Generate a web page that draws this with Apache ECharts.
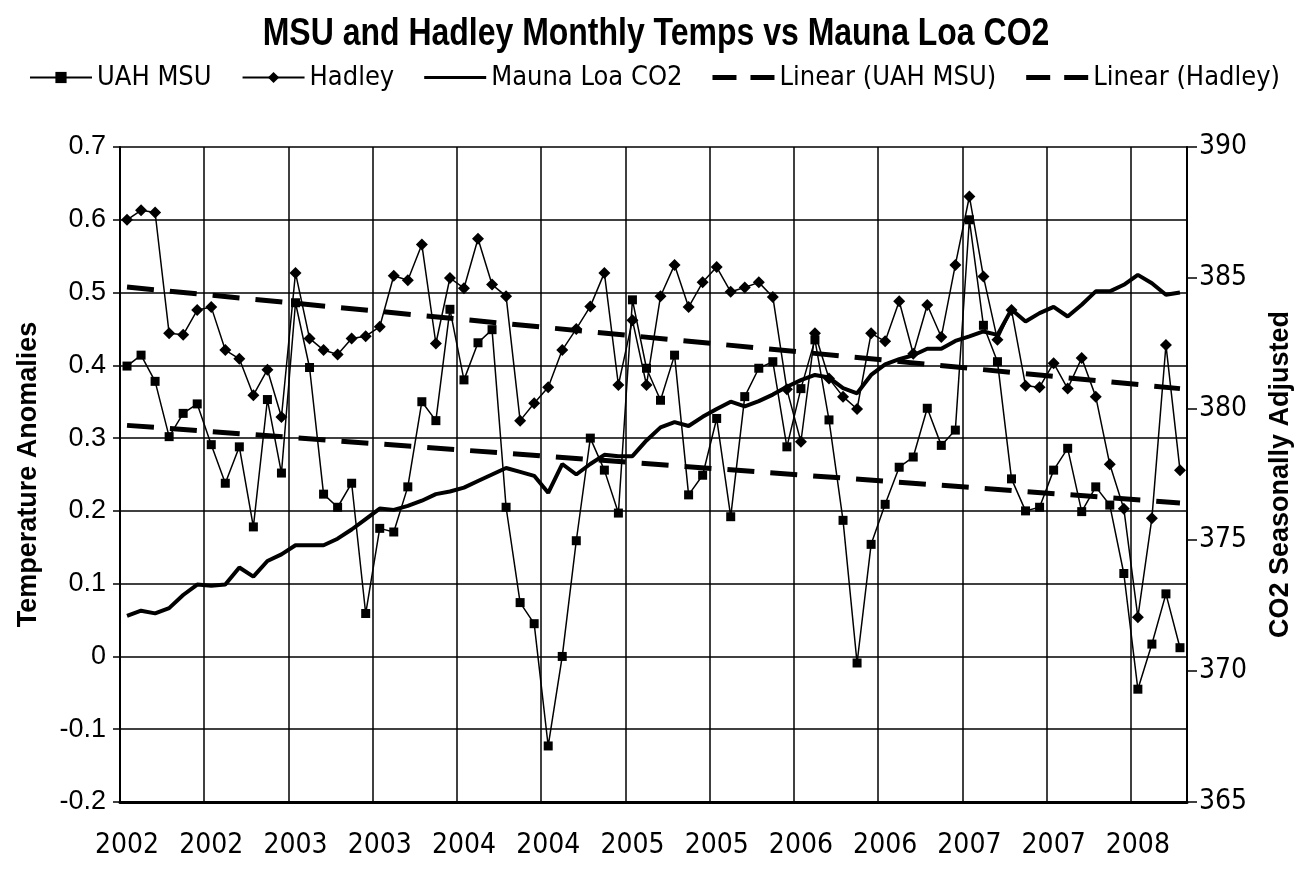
<!DOCTYPE html>
<html>
<head>
<meta charset="utf-8">
<title>MSU and Hadley Monthly Temps vs Mauna Loa CO2</title>
<script src="https://cdn.jsdelivr.net/npm/echarts@6/dist/echarts.min.js"></script>
<style>
    html, body {margin: 0; padding: 0; background: #fff;}
    #main {width: 1309px; height: 874px;}
</style>
</head>
<body>
<div id="main"></div>
<script>
// monthly temperature anomalies, Jan 2002 .. Apr 2008
var uahMsu = [
    0.399, 0.414, 0.378, 0.302, 0.334, 0.347, 0.291, 0.238, 0.288, 0.178, 0.353, 0.252,
    0.486, 0.397, 0.223, 0.205, 0.238, 0.059, 0.176, 0.171, 0.233, 0.350, 0.324, 0.477,
    0.380, 0.431, 0.449, 0.205, 0.074, 0.045, -0.123, 0.000, 0.159, 0.300, 0.256, 0.197,
    0.490, 0.396, 0.352, 0.414, 0.222, 0.249, 0.327, 0.192, 0.357, 0.396, 0.405, 0.288,
    0.368, 0.435, 0.325, 0.187, -0.009, 0.154, 0.209, 0.260, 0.274, 0.341, 0.290, 0.311,
    0.600, 0.455, 0.405, 0.244, 0.200, 0.205, 0.256, 0.286, 0.199, 0.233, 0.208, 0.114,
    -0.045, 0.017, 0.086, 0.012
];
var hadley = [
    0.600, 0.613, 0.610, 0.444, 0.442, 0.476, 0.480, 0.421, 0.409, 0.359, 0.394, 0.329,
    0.527, 0.437, 0.421, 0.415, 0.437, 0.440, 0.453, 0.523, 0.517, 0.566, 0.430, 0.520,
    0.506, 0.574, 0.511, 0.495, 0.324, 0.348, 0.370, 0.421, 0.450, 0.481, 0.527, 0.373,
    0.462, 0.373, 0.495, 0.538, 0.480, 0.514, 0.535, 0.501, 0.507, 0.514, 0.494, 0.367,
    0.295, 0.444, 0.382, 0.357, 0.340, 0.444, 0.433, 0.488, 0.416, 0.483, 0.439, 0.538,
    0.632, 0.522, 0.435, 0.476, 0.372, 0.370, 0.403, 0.368, 0.410, 0.357, 0.264, 0.203,
    0.054, 0.190, 0.428, 0.256
];
// Mauna Loa CO2, seasonally adjusted (ppm)
var maunaLoaCo2 = [
    372.10, 372.30, 372.20, 372.40, 372.90, 373.30, 373.25, 373.30, 373.95, 373.60, 374.20, 374.45,
    374.80, 374.80, 374.80, 375.05, 375.40, 375.80, 376.20, 376.15, 376.30, 376.50, 376.75, 376.85,
    377.00, 377.25, 377.50, 377.75, 377.60, 377.45, 376.80, 377.90, 377.50, 377.90, 378.25, 378.20,
    378.20, 378.80, 379.30, 379.50, 379.35, 379.70, 380.00, 380.28, 380.10, 380.30, 380.55, 380.85,
    381.10, 381.30, 381.20, 380.80, 380.60, 381.30, 381.70, 381.90, 382.05, 382.30, 382.30, 382.60,
    382.77, 382.96, 382.83, 383.80, 383.34, 383.66, 383.90, 383.53, 383.98, 384.49, 384.49, 384.74,
    385.12, 384.80, 384.36, 384.45
];
// excel linear trend lines, first and last month values
var linearUahEnds = [0.3175, 0.211];
var linearHadleyEnds = [0.5075, 0.368];

var tickLabels = ['2002', '2002', '2003', '2003', '2004', '2004', '2005', '2005', '2006', '2006', '2007', '2007', '2008'];
var leftTicks = {min: -0.2, max: 0.7, step: 0.1};
var rightTicks = {min: 365, max: 390, step: 5};

var months = [];
for (var i = 0; i < uahMsu.length; i++) {
    months.push((2002 + Math.floor(i / 12)) + '-' + ('0' + (i % 12 + 1)).slice(-2));
}

var NARROW = '"Liberation Sans Narrow", "DejaVu Sans Condensed", "Arial Narrow", sans-serif';
var ARIAL = '"Liberation Sans", Arial, sans-serif';
// legend icons: thin solid line, two long dashes
var ICON_LINE = 'path://M0,0h62v3h-62z';
var ICON_DASH = 'path://M0,0h24v5h-24zM38,0h24v5h-24z';

/**
 * trend line series data: only the two ends, the line joins them
 */
function trendData(ends) {
    var data = [];
    for (var i = 0; i < months.length; i++) {
        data.push(null);
    }
    data[0] = ends[0];
    data[months.length - 1] = ends[1];
    return data;
}

/**
 * MSU and Hadley monthly temps vs Mauna Loa CO2 chart
 */
function msu_hadley_co2_chart() {
    var myChart = echarts.init(document.getElementById('main'), null, {renderer: 'canvas'});
    var option = null;
    option = {
        backgroundColor: '#fff',
        animation: false,
        // title drawn as a condensed text, the excel title uses a narrow font
        graphic: [{
            type: 'text',
            x: 656,
            y: 15,
            scaleX: 0.82,
            style: {
                text: 'MSU and Hadley Monthly Temps vs Mauna Loa CO2',
                align: 'center',
                verticalAlign: 'top',
                fill: '#000',
                font: 'bold 39px "Liberation Sans", Arial, sans-serif'
            }
        }],
        legend: {
            top: 59,
            left: 'center',
            itemWidth: 62,
            itemHeight: 14,
            itemGap: 30,
            textStyle: {
                fontFamily: NARROW,
                fontSize: 27,
                color: '#000'
            },
            data: [
                {name: 'UAH MSU'},
                {name: 'Hadley'},
                {name: 'Mauna Loa CO2', icon: ICON_LINE},
                {name: 'Linear (UAH MSU)', icon: ICON_DASH},
                {name: 'Linear (Hadley)', icon: ICON_DASH}
            ]
        },
        grid: {
            left: 120,
            right: 122,
            top: 147,
            bottom: 72,
            outerBoundsMode: 'none'
        },
        xAxis: {
            type: 'category',
            data: months,
            boundaryGap: true,
            axisLine: {onZero: false, lineStyle: {color: '#000', width: 3}},
            axisTick: {
                interval: 5,
                length: 10,
                lineStyle: {color: '#000', width: 1.5}
            },
            splitLine: {
                show: true,
                interval: 5,
                lineStyle: {color: '#000', width: 1.5}
            },
            axisLabel: {
                interval: 5,
                formatter: function (value, index) {
                    return tickLabels[Math.floor(index / 6)];
                },
                margin: 30,
                fontFamily: NARROW,
                fontSize: 28,
                color: '#000'
            }
        },
        yAxis: [{
            type: 'value',
            name: 'Temperature Anomalies',
            nameLocation: 'middle',
            nameRotate: 90,
            nameGap: 78,
            nameTextStyle: {
                fontFamily: ARIAL,
                fontSize: 27,
                fontWeight: 'bold',
                color: '#000'
            },
            min: leftTicks.min,
            max: leftTicks.max,
            interval: leftTicks.step,
            axisLine: {show: true, lineStyle: {color: '#000', width: 2}},
            axisTick: {show: true, length: 7, lineStyle: {color: '#000', width: 1.5}},
            splitLine: {show: true, lineStyle: {color: '#000', width: 1.5}},
            axisLabel: {
                margin: 14,
                fontFamily: ARIAL,
                fontSize: 27,
                color: '#000',
                formatter: function (v) {
                    return String(Math.round(v * 10) / 10);
                }
            }
        }, {
            type: 'value',
            name: 'CO2 Seasonally Adjusted',
            nameLocation: 'middle',
            nameRotate: 90,
            nameGap: 80,
            nameTextStyle: {
                fontFamily: ARIAL,
                fontSize: 27,
                fontWeight: 'bold',
                color: '#000'
            },
            min: rightTicks.min,
            max: rightTicks.max,
            interval: rightTicks.step,
            axisLine: {show: true, lineStyle: {color: '#000', width: 2}},
            axisTick: {show: true, length: 10, lineStyle: {color: '#000', width: 1.5}},
            splitLine: {show: false},
            axisLabel: {
                margin: 12,
                fontFamily: NARROW,
                fontSize: 28,
                color: '#000'
            }
        }],
        series: [{
            name: 'UAH MSU',
            type: 'line',
            yAxisIndex: 0,
            data: uahMsu,
            symbol: 'rect',
            symbolSize: 9,
            showAllSymbol: true,
            lineStyle: {color: '#000', width: 1.5},
            itemStyle: {color: '#000'},
            z: 4
        }, {
            name: 'Hadley',
            type: 'line',
            yAxisIndex: 0,
            data: hadley,
            symbol: 'diamond',
            symbolSize: 12,
            showAllSymbol: true,
            lineStyle: {color: '#000', width: 1.5},
            itemStyle: {color: '#000'},
            z: 4
        }, {
            name: 'Mauna Loa CO2',
            type: 'line',
            yAxisIndex: 1,
            data: maunaLoaCo2,
            symbol: 'none',
            lineStyle: {color: '#000', width: 4},
            itemStyle: {color: '#000'},
            z: 3
        }, {
            name: 'Linear (UAH MSU)',
            type: 'line',
            yAxisIndex: 0,
            data: trendData(linearUahEnds),
            connectNulls: true,
            symbol: 'none',
            lineStyle: {color: '#000', width: 5, type: [27, 16]},
            itemStyle: {color: '#000'},
            z: 2
        }, {
            name: 'Linear (Hadley)',
            type: 'line',
            yAxisIndex: 0,
            data: trendData(linearHadleyEnds),
            connectNulls: true,
            symbol: 'none',
            lineStyle: {color: '#000', width: 5, type: [27, 16]},
            itemStyle: {color: '#000'},
            z: 2
        }]
    };
    if (option && typeof option === "object") {
        myChart.setOption(option, true);
    }
}

msu_hadley_co2_chart();
</script>
</body>
</html>
